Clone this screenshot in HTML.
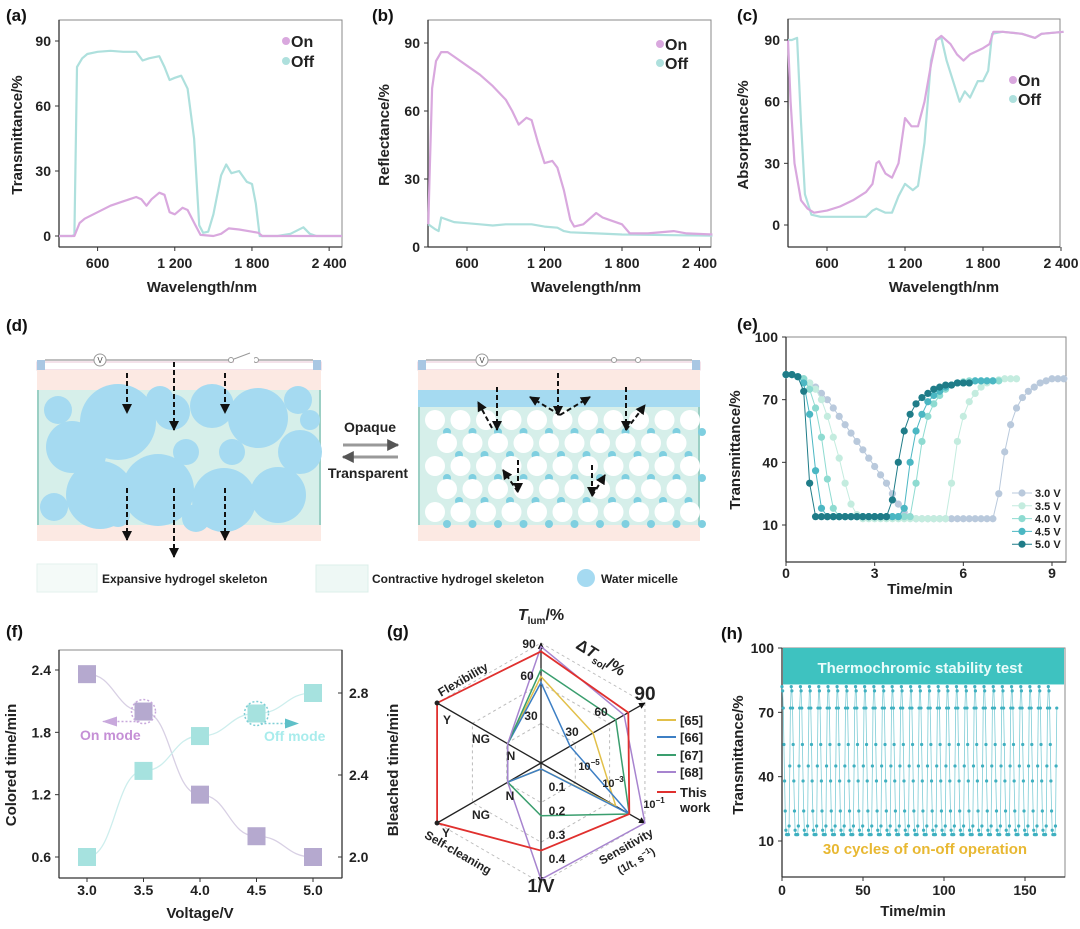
<!DOCTYPE html>
<html><head><meta charset="utf-8">
<style>
html,body{margin:0;padding:0;background:#fff;}
svg{display:block;font-family:"Liberation Sans",Arial,sans-serif;}
.tk{font-size:14px;font-weight:bold;fill:#222;}
.ti{font-size:15px;font-weight:bold;fill:#222;}
.pl{font-size:17px;font-weight:bold;fill:#111;}
</style></head>
<body>
<svg id="fig" width="1080" height="929" viewBox="0 0 1080 929" xmlns="http://www.w3.org/2000/svg">
<defs>
<marker id="ah" viewBox="0 0 10 10" refX="9" refY="5" markerWidth="5" markerHeight="6" orient="auto"><path d="M0,0 L10,5 L0,10 z" fill="#111"/></marker>
<marker id="ahg" viewBox="0 0 10 10" refX="9" refY="5" markerWidth="4" markerHeight="4" orient="auto"><path d="M0,0 L10,5 L0,10 z" fill="#555"/></marker>
</defs>
<g id="root"></g>
</svg>
<script>
// ===== Data: panel (a) Transmittance =====
const aWl=[300,400,420,440,480,520,600,700,800,900,950,1000,1080,1120,1160,1200,1250,1300,1350,1390,1420,1460,1500,1560,1600,1640,1700,1760,1800,1830,1860,2000,2100,2200,2250,2300,2500];
const aOff=[0,0,0.5,78,82,84,85,85.5,85,85,81,82,83,78,72,73,74,68,45,5,1.5,2,10,28,33,29,30,25,24,15,0,0,1,4,1,0,0];
const aOnWl=[300,420,460,500,600,700,800,900,940,980,1020,1080,1120,1160,1200,1260,1300,1360,1400,1500,1560,1620,1700,1800,1850,1880,2500];
const aOn=[0,0,6,8,11,14,16,18,17,14,17,20,19,11,10,13,12,5,0.5,0,1,3.5,3,2,1.5,0,0];
// ===== panel (b) Reflectance =====
const bOnWl=[300,310,330,360,400,450,500,600,700,800,900,950,1000,1060,1100,1150,1200,1260,1300,1350,1400,1430,1500,1600,1650,1700,1800,1860,2000,2200,2300,2500];
const bOn=[10,30,70,82,86,86,84,80,76,71,65,60,54,57,56,46,37,38,35,25,12,9,10,15,13,12,10,6,6,7,6,5.5];
const bOffWl=[300,350,380,400,450,500,600,700,800,900,1000,1100,1200,1300,1350,1400,1600,1800,2500];
const bOff=[10,8,7,13,12,11,10.5,10,9.5,10,10,10,9,8.5,7,6.5,6,5.5,5];
// ===== panel (c) Absorptance =====
const cOnWl=[300,320,350,400,450,500,600,700,800,900,950,980,1000,1050,1100,1150,1200,1250,1300,1350,1400,1440,1480,1550,1600,1650,1700,1800,1850,1880,1950,2100,2200,2250,2420];
const cOn=[90,60,30,12,8,6,7,9,12,16,20,30,31,25,23,30,52,48,48,60,78,90,92,88,83,80,83,86,88,94,94,93,91,93,94];
const cOffWl=[300,330,370,400,430,480,550,700,800,900,950,980,1050,1100,1150,1200,1260,1300,1350,1400,1440,1480,1520,1580,1620,1660,1700,1760,1800,1840,1870,1950,2100,2200,2250,2420];
const cOff=[90,90,91,50,15,5,4,4,4,4,7,8,6,6,14,20,17,19,40,80,90,91,80,68,60,65,62,70,70,75,93,94,93,91,93,94];
// ===== panel (e) kinetics (t step 0.2 min from 0) =====
const eLabels=["3.0 V","3.5 V","4.0 V","4.5 V","5.0 V"];
const eColors=["#b9c9dc","#c4ecdf","#8edbd1","#4bb7c3","#1f7c88"];
const e30=[82,82,81,80,78,76,73,70,66,62,58,54,50,46,42,38,34,30,25,20,16,14,13,13,13,13,13,13,13,13,13,13,13,13,13,13,25,45,58,66,71,74,76,78,79,80,80,80];
const e35=[82,82,81,80,78,75,70,62,52,42,30,20,15,13,13,13,13,13,13,13,13,13,13,13,13,13,13,13,30,50,62,69,73,76,78,79,79.5,80,80,80];
const e40=[82,82,81,80,75,66,52,32,18,14,14,14,14,14,14,14,14,14,14,14,14,14,30,50,62,68,72,75,77,78,78.5,79,79,79,79,79,79];
const e45=[82,82,81,78,63,36,18,14,14,14,14,14,14,14,14,14,14,14,14,14,18,40,55,63,69,72,74,76,77,78,78,78,79,79,79,79];
const e50=[82,82,81,74,30,14,14,14,14,14,14,14,14,14,14,14,14,14,22,40,55,63,68,71,73,75,76,77,77,78,78,78];
const eSeries=[e30,e35,e40,e45,e50];
const eStep=0.2;
// ===== panel (f) =====
const fVolt=[3.0,3.5,4.0,4.5,5.0];
const fColored=[2.36,2.0,1.2,0.8,0.6];
const fBleached=[2.0,2.42,2.59,2.7,2.8];
// ===== panel (g) radar (normalized score 0-1 on each axis) =====
const gAxes=["Tlum","dTsol","Sensitivity","1/V","Self-cleaning","Flexibility"];
const gNames=["[65]","[66]","[67]","[68]","This work"];
const gColors=["#e2c04a","#3d7fc4","#3a9e6e","#a784cf","#e0302e"];
const g65=[0.72,0.50,0.72,0.05,0.32,0.32];
const g66=[0.67,0.28,0.85,0.05,0.32,0.32];
const g67=[0.78,0.72,0.85,0.44,0.32,0.32];
const g68=[0.97,0.80,1.0,0.97,0.32,0.32];
const gThis=[0.93,0.84,0.85,0.73,1.0,1.0];
const gSeries=[g65,g66,g67,g68,gThis];
// ===== panel (h) cycling =====
const hCycleStart=[0,5.7,11.4,17.0,22.7,28.4,34.0,39.7,45.4,51.0,56.7,62.4,68.0,73.7,79.4,85.0,90.7,96.4,102.0,107.7,113.4,119.0,124.7,130.4,136.0,141.7,147.4,153.0,158.7,164.4];
const hProfile=[82,80,72,55,38,24,15,13,13,13,13,17,45,72];
const hStep=0.4;

const NS="http://www.w3.org/2000/svg";
const root=document.getElementById('root');
function el(tag,attrs,parent,text){const e=document.createElementNS(NS,tag);for(const k in attrs)e.setAttribute(k,attrs[k]);if(text!==undefined)e.textContent=text;(parent||root).appendChild(e);return e;}
function lin(d0,d1,r0,r1){return v=>r0+(v-d0)*(r1-r0)/(d1-d0);}

function frame(g,x0,x1,y0,y1){
  el('rect',{x:x0,y:y0,width:x1-x0,height:y1-y0,fill:'none',stroke:'#888','stroke-width':1},g);
  el('line',{x1:x0,y1:y0,x2:x0,y2:y1,stroke:'#333','stroke-width':1.3},g);
  el('line',{x1:x0,y1:y1,x2:x1,y2:y1,stroke:'#333','stroke-width':1.3},g);
}
function yTicks(g,x0,ticks,Y,side){ticks.forEach(t=>{const y=Y(t);
  el('line',{x1:x0,y1:y,x2:x0+(side==='r'?4:-4),y2:y,stroke:'#333'},g);
  const tx=el('text',{x:side==='r'?x0+8:x0-8,y:y+5,'text-anchor':side==='r'?'start':'end',class:'tk'},g,String(t));
  });}
function xTicks(g,y0,ticks,labels,X,ly){ticks.forEach((t,i)=>{const x=X(t);
  el('line',{x1:x,y1:y0,x2:x,y2:y0+4,stroke:'#333'},g);
  const tx=el('text',{x:x,y:ly,'text-anchor':'middle',class:'tk'},g,labels[i]);
  });}
function vTitle(g,x,y,txt,name){const t=el('text',{x:x,y:y,transform:`rotate(-90 ${x} ${y})`,'text-anchor':'middle',class:'ti'},g,txt);return t;}
function hTitle(g,x,y,txt,name){const t=el('text',{x:x,y:y,'text-anchor':'middle',class:'ti'},g,txt);return t;}
function pLabel(x,y,txt){const t=el('text',{x:x,y:y,class:'pl'},root,txt);}
function line(g,xs,ys,X,Y,color,name){const d=xs.map((x,i)=>(i?'L':'M')+X(x).toFixed(1)+','+Y(ys[i]).toFixed(1)).join('');
  const p=el('path',{d:d,fill:'none',stroke:color,'stroke-width':2.2,'stroke-linejoin':'round'},g);}
function legend2(g,x,y,dy,items){items.forEach((it,i)=>{
  const c=el('circle',{cx:x,cy:y+i*dy,r:4,fill:it[1]},g);
  const t=el('text',{x:x+5,y:y+i*dy+6,style:'font-size:16px;font-weight:bold;fill:#222'},g,it[0]);});}
const ON='#d9a8de',OFF='#aee0dd';

// ---- (a) ----
{const g=el('g',{});
 const X=lin(300,2500,59,342),Y=lin(0,90,236,41);
 frame(g,59,342,20,247);
 line(g,aWl,aOff,X,Y,OFF,'series-off');line(g,aOnWl,aOn,X,Y,ON,'series-on');
 yTicks(g,59,[0,30,60,90],Y);xTicks(g,247,[600,1200,1800,2400],['600','1 200','1 800','2 400'],X,268);
 vTitle(g,22,135,'Transmittance/%','y-axis-title');hTitle(g,202,292,'Wavelength/nm','x-axis-title');
 legend2(g,286,41,20,[['On',ON],['Off',OFF]]);pLabel(6,21,'(a)');}
// ---- (b) ----
{const g=el('g',{});
 const X=lin(600,1800,467,622),Y=lin(0,90,247,43);
 frame(g,428,711,20,247);
 line(g,bOffWl,bOff,X,Y,OFF,'series-off');line(g,bOnWl,bOn,X,Y,ON,'series-on');
 yTicks(g,428,[0,30,60,90],Y);xTicks(g,247,[600,1200,1800,2400],['600','1 200','1 800','2 400'],X,268);
 vTitle(g,389,135,'Reflectance/%','y-axis-title');hTitle(g,586,292,'Wavelength/nm','x-axis-title');
 legend2(g,660,44,19,[['On',ON],['Off',OFF]]);pLabel(372,21,'(b)');}
// ---- (c) ----
{const g=el('g',{});
 const X=lin(600,1800,827,983),Y=lin(0,90,225,40);
 frame(g,788,1060,19,247);
 line(g,cOffWl,cOff,X,Y,OFF,'series-off');line(g,cOnWl,cOn,X,Y,ON,'series-on');
 yTicks(g,788,[0,30,60,90],Y);xTicks(g,247,[600,1200,1800,2400],['600','1 200','1 800','2 400'],X,268);
 vTitle(g,748,135,'Absorptance/%','y-axis-title');hTitle(g,944,292,'Wavelength/nm','x-axis-title');
 legend2(g,1013,80,19,[['On',ON],['Off',OFF]]);pLabel(737,21,'(c)');}

// ---- (d) schematic ----
{const g=el('g',{});
 pLabel(6,331,'(d)');
 function cell(x0,x1){
  el('rect',{x:x0,y:362,width:x1-x0,height:8,fill:'#fff',stroke:'#e8c6d6'},g);
  el('rect',{x:x0,y:360,width:8,height:10,fill:'#a9c7e3'},g);el('rect',{x:x1-8,y:360,width:8,height:10,fill:'#a9c7e3'},g);
  el('line',{x1:x0+8,y1:360,x2:x1-8,y2:360,stroke:'#aaa','stroke-width':1.5},g);
  el('rect',{x:x0,y:370,width:x1-x0,height:20,fill:'#fce9e3'},g);
  el('rect',{x:x0,y:390,width:x1-x0,height:135,fill:'#d6efea'},g);
  el('line',{x1:x0+1,y1:390,x2:x0+1,y2:525,stroke:'#9bcfc4','stroke-width':2},g);
  el('line',{x1:x1-1,y1:390,x2:x1-1,y2:525,stroke:'#9bcfc4','stroke-width':2},g);
  el('rect',{x:x0,y:525,width:x1-x0,height:16,fill:'#fce9e3'},g);
 }
 cell(37,321);cell(418,700);
 const bigC=[[58,410,14],[72,447,26],[118,422,38],[160,400,14],[172,412,18],[212,406,22],[258,418,30],[298,400,14],[300,452,22],[100,495,34],[158,490,36],[224,500,32],[278,495,28],[54,507,14],[118,515,12],[196,518,14],[92,456,14],[186,452,13],[232,452,13],[310,420,10]];
 bigC.forEach(c=>{const e=el('circle',{cx:c[0],cy:c[1],r:c[2],fill:'#a5daf1'},g);});
 el('rect',{x:418,y:390,width:282,height:17,fill:'#a5daf1'},g);
 for(let r=0;r<5;r++){for(let k=0;k<11;k++){const cx=435+k*25.5+(r%2?12:0),cy=420+r*23;if(cx>692)continue;
   el('circle',{cx:cx,cy:cy,r:10,fill:'#fff'},g);
   el('circle',{cx:cx+12,cy:cy+12,r:4,fill:'#7fcfe0'},g);}}
 [[100,360],[482,360]].forEach(p=>{el('circle',{cx:p[0],cy:p[1],r:6,fill:'#fff',stroke:'#999'},g);el('text',{x:p[0],y:p[1]+3,'text-anchor':'middle',style:'font-size:8px;fill:#444'},g,'V');});
 el('circle',{cx:231,cy:360,r:2.5,fill:'#fff',stroke:'#999'},g);el('circle',{cx:256,cy:360,r:2.5,fill:'#fff',stroke:'#999'},g);
 el('rect',{x:234,y:356,width:20,height:8,fill:'#fff'},g);
 el('line',{x1:234,y1:359,x2:250,y2:353,stroke:'#999'},g);
 el('circle',{cx:614,cy:360,r:2.5,fill:'#fff',stroke:'#999'},g);el('circle',{cx:638,cy:360,r:2.5,fill:'#fff',stroke:'#999'},g);
 function arr(x1,y1,x2,y2){const a=el('line',{x1:x1,y1:y1,x2:x2,y2:y2,stroke:'#111','stroke-width':2,'stroke-dasharray':'5,3','marker-end':'url(#ah)'},g);}
 arr(127,373,127,413);arr(174,362,174,430);arr(225,373,225,413);
 arr(127,488,127,540);arr(174,488,174,557);arr(225,488,225,540);
 arr(497,387,497,430);arr(558,373,558,415);arr(626,387,626,430);
 arr(492,428,478,402);arr(560,415,530,397);arr(560,415,590,397);arr(626,430,645,405);
 arr(518,460,518,492);arr(518,492,503,470);arr(592,465,592,496);arr(592,496,605,475);
 el('line',{x1:343,y1:445,x2:398,y2:445,stroke:'#999','stroke-width':3,'marker-end':'url(#ahg)'},g);
 el('line',{x1:398,y1:457,x2:343,y2:457,stroke:'#999','stroke-width':3,'marker-end':'url(#ahg)'},g);
 let t=el('text',{x:370,y:432,'text-anchor':'middle',style:'font-size:14px;font-weight:bold;fill:#222'},g,'Opaque');
 t=el('text',{x:368,y:478,'text-anchor':'middle',style:'font-size:14px;font-weight:bold;fill:#222'},g,'Transparent');
 el('rect',{x:37,y:564,width:60,height:28,fill:'#f4faf8',stroke:'#e3f1ee'},g);
 el('rect',{x:316,y:565,width:52,height:27,fill:'#eef8f5',stroke:'#dcefea'},g);
 el('circle',{cx:586,cy:578,r:9,fill:'#a5daf1'},g);
 [[102,'Expansive hydrogel skeleton'],[372,'Contractive hydrogel skeleton'],[601,'Water micelle']].forEach(a=>{const tt=el('text',{x:a[0],y:583,style:'font-size:12px;font-weight:bold;fill:#222'},g,a[1]);});
}

// ---- (e) ----
{const g=el('g',{});
 const X=lin(0,9,786,1052),Y=lin(10,100,525,337);
 frame(g,786,1066,337,562);
 eSeries.forEach((s,si)=>{const xs=s.map((v,i)=>i*eStep);
   const d=s.map((v,i)=>(i?'L':'M')+X(xs[i]).toFixed(1)+','+Y(v).toFixed(1)).join('');
   el('path',{d:d,fill:'none',stroke:eColors[si],'stroke-width':1},g);
   s.forEach((v,i)=>{const c=el('circle',{cx:X(xs[i]),cy:Y(v),r:3.6,fill:eColors[si]},g);});});
 yTicks(g,786,[10,40,70,100],Y);xTicks(g,562,[0,3,6,9],['0','3','6','9'],X,578);
 vTitle(g,740,450,'Transmittance/%','y-axis-title');hTitle(g,920,594,'Time/min','x-axis-title');
 eLabels.forEach((l,i)=>{const y=493+i*12.8;el('line',{x1:1012,y1:y,x2:1032,y2:y,stroke:eColors[i]},g);
   el('circle',{cx:1022,cy:y,r:3.6,fill:eColors[i]},g);
   const t=el('text',{x:1035,y:y+4,style:'font-size:11px;font-weight:bold;fill:#222'},g,l);});
 pLabel(737,330,'(e)');}

// ---- (f) ----
{const g=el('g',{});
 const X=lin(3,5,87,313),YL=lin(0.6,2.4,857,670),YR=lin(2.0,2.8,857,693);
 frame(g,59,342,650,878);
 el('line',{x1:342,y1:650,x2:342,y2:878,stroke:'#333','stroke-width':1.3},g);
 function smooth(xs,ys,Y){let d='M'+X(xs[0])+','+Y(ys[0]);for(let i=1;i<xs.length;i++){const x0=X(xs[i-1]),y0=Y(ys[i-1]),x1=X(xs[i]),y1=Y(ys[i]);const mx=(x0+x1)/2;d+=` C${mx},${y0} ${mx},${y1} ${x1},${y1}`;}return d;}
 el('path',{d:smooth(fVolt,fColored,YL),fill:'none',stroke:'#d8d0e4','stroke-width':1.3},g);
 el('path',{d:smooth(fVolt,fBleached,YR),fill:'none',stroke:'#cdeeed','stroke-width':1.3},g);
 fVolt.forEach((v,i)=>{let s=el('rect',{x:X(v)-9,y:YL(fColored[i])-9,width:18,height:18,fill:'#b5a9cf'},g);
   s=el('rect',{x:X(v)-9,y:YR(fBleached[i])-9,width:18,height:18,fill:'#a6e2df'},g);});
 el('circle',{cx:X(3.5),cy:YL(2.0),r:12,fill:'none',stroke:'#c8a8dc','stroke-width':1.5,'stroke-dasharray':'2,2'},g);
 el('circle',{cx:X(4.5),cy:YR(2.7),r:12,fill:'none',stroke:'#7fcfd6','stroke-width':1.5,'stroke-dasharray':'2,2'},g);
 el('line',{x1:X(3.5)-4,y1:YL(2.0)+10,x2:103,y2:YL(2.0)+10,stroke:'#c8a8dc','stroke-width':1.5,'stroke-dasharray':'2,2'},g);
 el('path',{d:`M103,${YL(2.0)+5} L118,${YL(2.0)+10} L103,${YL(2.0)+15}z`,fill:'#c8a8dc',transform:`rotate(180 110 ${YL(2.0)+10})`},g);
 el('line',{x1:X(4.5)+4,y1:YR(2.7)+10,x2:290,y2:YR(2.7)+10,stroke:'#7fcfd6','stroke-width':1.5,'stroke-dasharray':'2,2'},g);
 el('path',{d:`M285,${YR(2.7)+5} L299,${YR(2.7)+10} L285,${YR(2.7)+15}z`,fill:'#5fc0c8'},g);
 let t=el('text',{x:80,y:740,style:'font-size:14px;font-weight:bold;fill:#c58fd6'},g,'On mode');
 t=el('text',{x:264,y:741,style:'font-size:14px;font-weight:bold;fill:#a8ecec'},g,'Off mode');
 yTicks(g,59,[0.6,1.2,1.8,2.4],YL);
 [2.0,2.4,2.8].forEach(v=>{const y=YR(v);el('line',{x1:342,y1:y,x2:338,y2:y,stroke:'#333'},g);const tt=el('text',{x:349,y:y+5,class:'tk'},g,v.toFixed(1));});
 xTicks(g,878,fVolt,fVolt.map(v=>v.toFixed(1)),X,895);
 vTitle(g,16,765,'Colored time/min','left-y-axis-title');
 const bt=el('text',{x:398,y:770,transform:'rotate(-90 398 770)','text-anchor':'middle',class:'ti'},g,'Bleached time/min');
 hTitle(g,200,918,'Voltage/V','x-axis-title');pLabel(6,637,'(f)');}

// ---- (g) radar ----
{const g=el('g',{});
 const cx=541,cy=763,R=120;const ang=[90,30,-30,-90,-150,150].map(a=>a*Math.PI/180);
 const P=(i,f)=>[cx+Math.cos(ang[i])*R*f,cy-Math.sin(ang[i])*R*f];
 [0.33,0.66,1].forEach(f=>{const d=ang.map((a,i)=>(i?'L':'M')+P(i,f).join(',')).join('')+'Z';el('path',{d:d,fill:'none',stroke:'#bbb','stroke-dasharray':'3,3'},g);});
 [0,1,2,3,4,5].forEach(i=>{const p=P(i,1);el('line',{x1:cx,y1:cy,x2:p[0],y2:p[1],stroke:'#222','stroke-width':1.3,'marker-end':(i<4?'url(#ah)':'')},g);});
 gSeries.forEach((s,si)=>{const d=s.map((v,i)=>(i?'L':'M')+P(i,v).map(n=>n.toFixed(1)).join(',')).join('')+'Z';
   const p=el('path',{d:d,fill:'none',stroke:gColors[si],'stroke-width':si===4?1.8:1.5},g);});
 el('circle',{cx:P(4,1)[0],cy:P(4,1)[1],r:2.5,fill:'#222'},g);el('circle',{cx:P(5,1)[0],cy:P(5,1)[1],r:2.5,fill:'#222'},g);
 const T=(x,y,s,sz,rot,name)=>{const t=el('text',{x:x,y:y,'text-anchor':'middle',style:`font-size:${sz}px;font-weight:bold;fill:#222`},g);t.innerHTML=s;if(rot)t.setAttribute('transform',`rotate(${rot} ${x} ${y})`);return t;};
 T(541,620,'<tspan font-style="italic">T</tspan><tspan font-size="10" dy="4">lum</tspan><tspan dy="-4">/%</tspan>',16,0,'axis-title-tlum');
 T(598,662,'Δ<tspan font-style="italic">T</tspan><tspan font-size="10" dy="4">sol</tspan><tspan dy="-4">/%</tspan>',16,32,'axis-title-dtsol');
 T(645,700,'90',19,0,'axis-max-label');
 T(541,892,'1/V',18,0,'axis-title-inverse-voltage');
 T(465,683,'Flexibility',12,-30,'axis-title-flexibility');
 T(456,856,'Self-cleaning',12,30,'axis-title-self-cleaning');
 T(628,850,'Sensitivity',12,-30,'axis-title-sensitivity');
 T(638,864,'(1/t, s<tspan font-size="8" dy="-4">−1</tspan><tspan dy="4">)</tspan>',11,-30,'axis-subtitle-sensitivity');
 [['90',529,648],['60',527,680],['30',531,720],['30',572,736],['60',601,716],['Y',447,724],['NG',481,743],['N',511,760],['N',510,800],['NG',481,819],['Y',446,837],['0.1',557,791],['0.2',557,815],['0.3',557,839],['0.4',557,863]].forEach(a=>T(a[1],a[2],a[0],12,0,'radar-tick-label'));
 T(589,770,'10<tspan font-size="8" dy="-5">−5</tspan>',11,0,'radar-tick-label');
 T(613,787,'10<tspan font-size="8" dy="-5">−3</tspan>',11,0,'radar-tick-label');
 T(654,808,'10<tspan font-size="8" dy="-5">−1</tspan>',11,0,'radar-tick-label');
 const legY=[720,737,755,772,792];
 gNames.forEach((n,i)=>{const y=legY[i];el('line',{x1:657,y1:y,x2:676,y2:y,stroke:gColors[i],'stroke-width':2},g);
   const t=el('text',{x:680,y:y+5,style:'font-size:13px;font-weight:bold;fill:#222'},g,i===4?'This':n);});
 const w=el('text',{x:680,y:812,style:'font-size:13px;font-weight:bold;fill:#222'},g,'work');
 pLabel(387,637,'(g)');}

// ---- (h) ----
{const g=el('g',{});
 const X=lin(0,150,782,1025),Y=lin(10,100,841,648);
 frame(g,782,1065,648,877);
 const band=el('rect',{x:783,y:Y(100),width:281,height:Y(83)-Y(100),fill:'#3ec2c0'},g);
 let d='';hCycleStart.forEach((t0,ci)=>{hProfile.forEach((v,i)=>{d+=(ci===0&&i===0?'M':'L')+X(t0+i*hStep).toFixed(1)+','+Y(v).toFixed(1);});});
 el('path',{d:d,fill:'none',stroke:'#7fcdd6','stroke-width':0.8},g);
 hCycleStart.forEach(t0=>hProfile.forEach((v,i)=>{const c=el('circle',{cx:X(t0+i*hStep),cy:Y(v),r:1.6,fill:'#3fb0c0'},g);}));
 let t=el('text',{x:920,y:673,'text-anchor':'middle',style:'font-size:15px;font-weight:bold;fill:#eafcfb'},g,'Thermochromic stability test');
 t=el('text',{x:925,y:854,'text-anchor':'middle',style:'font-size:15px;font-weight:bold;fill:#e8b832'},g,'30 cycles of on-off operation');
 yTicks(g,782,[10,40,70,100],Y);xTicks(g,877,[0,50,100,150],['0','50','100','150'],X,895);
 vTitle(g,743,755,'Transmittance/%','y-axis-title');hTitle(g,913,916,'Time/min','x-axis-title');
 pLabel(721,639,'(h)');}
</script>
</body></html>
